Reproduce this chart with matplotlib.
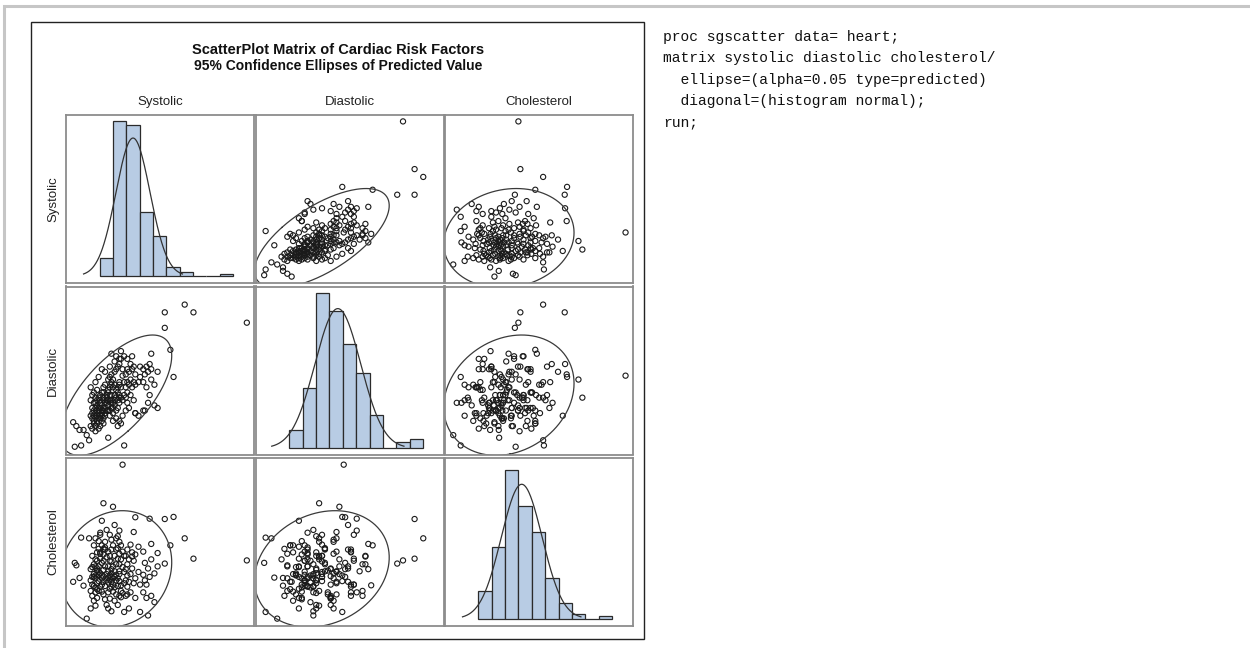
import numpy as np
import matplotlib
matplotlib.use("Agg")
import matplotlib.pyplot as plt
from matplotlib.patches import Rectangle

# --- dati (un'osservazione per posizione) ---
systolic = [
    82, 84, 92, 90, 95, 99, 102, 86,
    104, 104, 104, 104,
    106, 106, 106, 106, 106,
    108, 108, 108, 108, 108, 108,
    110, 110, 110, 110, 110, 110, 110, 110,
    112, 112, 112, 112, 112, 112, 112,
    114, 114, 114, 114, 114, 114, 114,
    116, 116, 116, 116, 116, 116, 116,
    118, 118, 118, 118, 118, 118, 118,
    120, 120, 120, 120, 120, 120, 120, 120,
    122, 122, 122, 122, 122, 122,
    124, 124, 124, 124, 124,
    126, 126, 126, 126, 126, 126, 126,
    128, 128, 128, 128, 128, 128, 128,
    130, 130, 130, 130, 130, 130, 130, 130, 130,
    132, 132, 132, 132, 132, 132,
    134, 134, 134, 134, 134, 134,
    136, 136, 136, 136, 136, 136,
    138, 138, 138, 138, 138, 138,
    140, 140, 140, 140, 140, 140, 140, 140,
    142, 142, 142, 142, 142,
    144, 144, 144, 144,
    146, 146, 146, 146,
    148, 148, 148, 148,
    150, 150, 150, 150, 150,
    152, 152, 152,
    154, 154, 154,
    156, 156, 156,
    158, 158, 158,
    160, 160, 160, 160,
    164, 164,
    166, 166,
    170, 170, 170,
    172, 172,
    174, 174,
    176, 176,
    178, 178,
    180, 180, 180,
    184, 184,
    188, 188,
    197, 197, 208, 204, 222, 233, 300,
]
diastolic = [
    69, 50, 51, 63, 63, 59, 55, 66,
    74, 86, 66, 96,
    80, 64, 90, 72, 76,
    70, 84, 78, 92, 68, 74,
    76, 62, 88, 80, 72, 100, 66, 84,
    78, 86, 70, 74, 94, 82, 68,
    72, 88, 80, 64, 76, 104, 78,
    84, 74, 66, 90, 80, 72, 86,
    76, 92, 70, 78, 82, 74, 110,
    86, 68, 80, 92, 96, 78, 88, 72,
    74, 84, 108, 76, 80, 98,
    90, 88, 86, 78, 84,
    57, 102, 94, 78, 82, 86, 92,
    104, 74, 78, 112, 86, 90, 96,
    100, 122, 80, 84, 86, 90, 80, 98, 106,
    76, 80, 84, 70, 96, 102,
    116, 82, 86, 90, 98, 108,
    78, 120, 88, 94, 72, 110,
    80, 86, 92, 96, 66, 112,
    70, 118, 84, 88, 90, 98, 100, 114,
    124, 88, 96, 68, 118,
    86, 74, 105, 110,
    51, 90, 100, 120,
    78, 88, 96, 106,
    84, 92, 100, 110, 118,
    80, 98, 108,
    90, 102, 114,
    96, 110, 120,
    86, 100, 112,
    76, 98, 106, 76,
    100, 74,
    104, 112,
    78, 100, 110,
    106, 78,
    96, 112,
    108, 84,
    90, 114,
    102, 110, 122,
    98, 82,
    108, 80,
    154, 142, 104, 125, 160, 154, 146,
]
cholesterol = [
    226, 280, 352, 237, 215, 121, 350, 273,
    150, 230, 200, 262,
    240, 186, 300, 268, 218,
    172, 248, 214, 276, 330, 240,
    210, 290, 158, 236, 244, 350, 270, 196,
    222, 264, 310, 180, 258, 286, 205,
    246, 200, 270, 320, 342, 228, 255,
    212, 292, 306, 360, 366, 250, 310,
    236, 280, 198, 330, 244, 400, 218,
    260, 226, 304, 320, 242, 286, 450, 190,
    270, 214, 318, 176, 324, 340,
    248, 296, 160, 230, 374,
    238, 270, 196, 312, 224, 150, 256,
    244, 206, 286, 360, 232, 300, 178,
    226, 262, 318, 142, 250, 284, 212, 346, 240,
    198, 270, 236, 330, 218, 440,
    256, 210, 300, 240, 172, 388,
    230, 276, 350, 190, 246, 318,
    214, 356, 322, 160, 236, 292,
    248, 186, 276, 340, 228, 306, 256, 372,
    216, 290, 182, 330, 200,
    194, 268, 560, 312,
    140, 254, 222, 300,
    230, 300, 186, 262,
    244, 318, 190, 212, 276,
    290, 150, 226,
    332, 248, 196,
    264, 310, 298,
    222, 368, 286,
    304, 236, 410, 180,
    254, 326,
    140, 218,
    246, 312, 196,
    280, 230,
    180, 218,
    264, 130,
    240, 406,
    290, 186, 334,
    250, 168,
    270, 308,
    405, 278, 411, 330, 350, 292, 287,
]

variabili = ["Systolic", "Diastolic", "Cholesterol"]
titolo = "ScatterPlot Matrix of Cardiac Risk Factors"
sottotitolo = "95% Confidence Ellipses of Predicted Value"
codice_sas = [
    "proc sgscatter data= heart;",
    "matrix systolic diastolic cholesterol/",
    "  ellipse=(alpha=0.05 type=predicted)",
    "  diagonal=(histogram normal);",
    "run;",
]

# --- impostazioni grafiche ---
W, H = 1250, 648
FONT = "Liberation Sans"
BAR_COLOR = "#b8cce4"
PANEL_EDGE = "#8c8c8c"

dati = {"Systolic": np.array(systolic, float),
        "Diastolic": np.array(diastolic, float),
        "Cholesterol": np.array(cholesterol, float)}
# limiti degli assi nei riquadri di dispersione
lim_scatter = {"Systolic": (73, 309), "Diastolic": (44, 174), "Cholesterol": (100, 579)}
# bordi degli istogrammi e limiti x dei riquadri diagonali
bordi = {"Systolic": np.linspace(81, 301, 11),
         "Diastolic": np.linspace(50, 160, 11),
         "Cholesterol": np.linspace(120, 560, 11)}
lim_diag = {"Systolic": (25, 336), "Diastolic": (22, 177), "Cholesterol": (11, 628)}
pad_diag = {"Systolic": (0.045, 1.038), "Diastolic": (0.04, 1.04), "Cholesterol": (0.048, 1.08)}


def px_box(x, y, w, h):
    """Converte un riquadro in pixel (origine in alto a sinistra) in coordinate figura."""
    return [x / W, 1 - (y + h) / H, w / W, h / H]


def ellisse_predizione(x, y, f_crit=3.04):
    """Ellisse di predizione al 95% (F(0.95; 2, n-2) ~ 3.04)."""
    n = len(x)
    S = np.cov(x, y)
    c2 = 2 * (n - 1) * (n + 1) / (n * (n - 2)) * f_crit
    val, vec = np.linalg.eigh(S)
    t = np.linspace(0, 2 * np.pi, 300)
    cerchio = np.vstack([np.cos(t), np.sin(t)])
    pts = vec @ (np.sqrt(val * c2)[:, None] * cerchio)
    return x.mean() + pts[0], y.mean() + pts[1]


fig = plt.figure(figsize=(W / 100, H / 100), dpi=100)

col_x = [66, 255.5, 445]
row_y = [115, 286.5, 458]
cell_w, cell_h = 188, 168

for i, var_y in enumerate(variabili):
    for j, var_x in enumerate(variabili):
        ax = fig.add_axes(px_box(col_x[j], row_y[i], cell_w, cell_h))
        x = dati[var_x]
        if i == j:
            ax.hist(x, bins=bordi[var_x], color=BAR_COLOR, edgecolor="#2b2b2b", linewidth=0.9)
            counts, _ = np.histogram(x, bins=bordi[var_x])
            bw = bordi[var_x][1] - bordi[var_x][0]
            mu, sd = x.mean(), x.std(ddof=1)
            xs = np.linspace(mu - 2.9 * sd, mu + 2.9 * sd, 300)
            ys = len(x) * bw * np.exp(-0.5 * ((xs - mu) / sd) ** 2) / (sd * np.sqrt(2 * np.pi))
            ax.plot(xs, ys, color="#333333", lw=0.9)
            ax.set_xlim(*lim_diag[var_x])
            top = counts.max()
            ax.set_ylim(-pad_diag[var_x][0] * top, pad_diag[var_x][1] * top)
        else:
            y = dati[var_y]
            ax.scatter(x, y, s=14, facecolors="none", edgecolors="#1a1a1a", linewidths=0.8)
            ex, ey = ellisse_predizione(x, y)
            ax.plot(ex, ey, color="#3a3a3a", lw=0.9)
            ax.set_xlim(*lim_scatter[var_x])
            ax.set_ylim(*lim_scatter[var_y])
        ax.set_xticks([])
        ax.set_yticks([])
        for s in ax.spines.values():
            s.set_color(PANEL_EDGE)
            s.set_linewidth(1.3)

# etichette di colonna e di riga
for j, nome in enumerate(variabili):
    fig.text((col_x[j] + cell_w / 2) / W, 1 - 102 / H, nome, ha="center", va="center",
             fontsize=9.5, family=FONT, color="#222222")
for i, nome in enumerate(variabili):
    fig.text(53 / W, 1 - (row_y[i] + cell_h / 2) / H, nome, ha="center", va="center",
             rotation=90, fontsize=9.5, family=FONT, color="#222222")

# titoli
fig.text(338 / W, 1 - 50 / H, titolo, ha="center", va="center", fontsize=10.5,
         fontweight="bold", family=FONT, color="#111111")
fig.text(338 / W, 1 - 66 / H, sottotitolo, ha="center", va="center", fontsize=10,
         fontweight="bold", family=FONT, color="#111111")

# cornice del grafico e bordo grigio esterno
fig.add_artist(Rectangle((31 / W, 1 - 639 / H), 613 / W, 617 / H, fill=False,
                         edgecolor="#222222", lw=1.0, transform=fig.transFigure))
fig.add_artist(Rectangle((4 / W, -0.1), 1.2, 1.1 - 6 / H, fill=False,
                         edgecolor="#c6c6c6", lw=2.2, transform=fig.transFigure))

# codice SAS a destra
for k, riga in enumerate(codice_sas):
    fig.text(663 / W, 1 - (37 + 21.3 * k) / H, riga, ha="left", va="center",
             fontsize=10.5, family="Liberation Mono", color="#111111")

fig.savefig("out.png", dpi=100)
